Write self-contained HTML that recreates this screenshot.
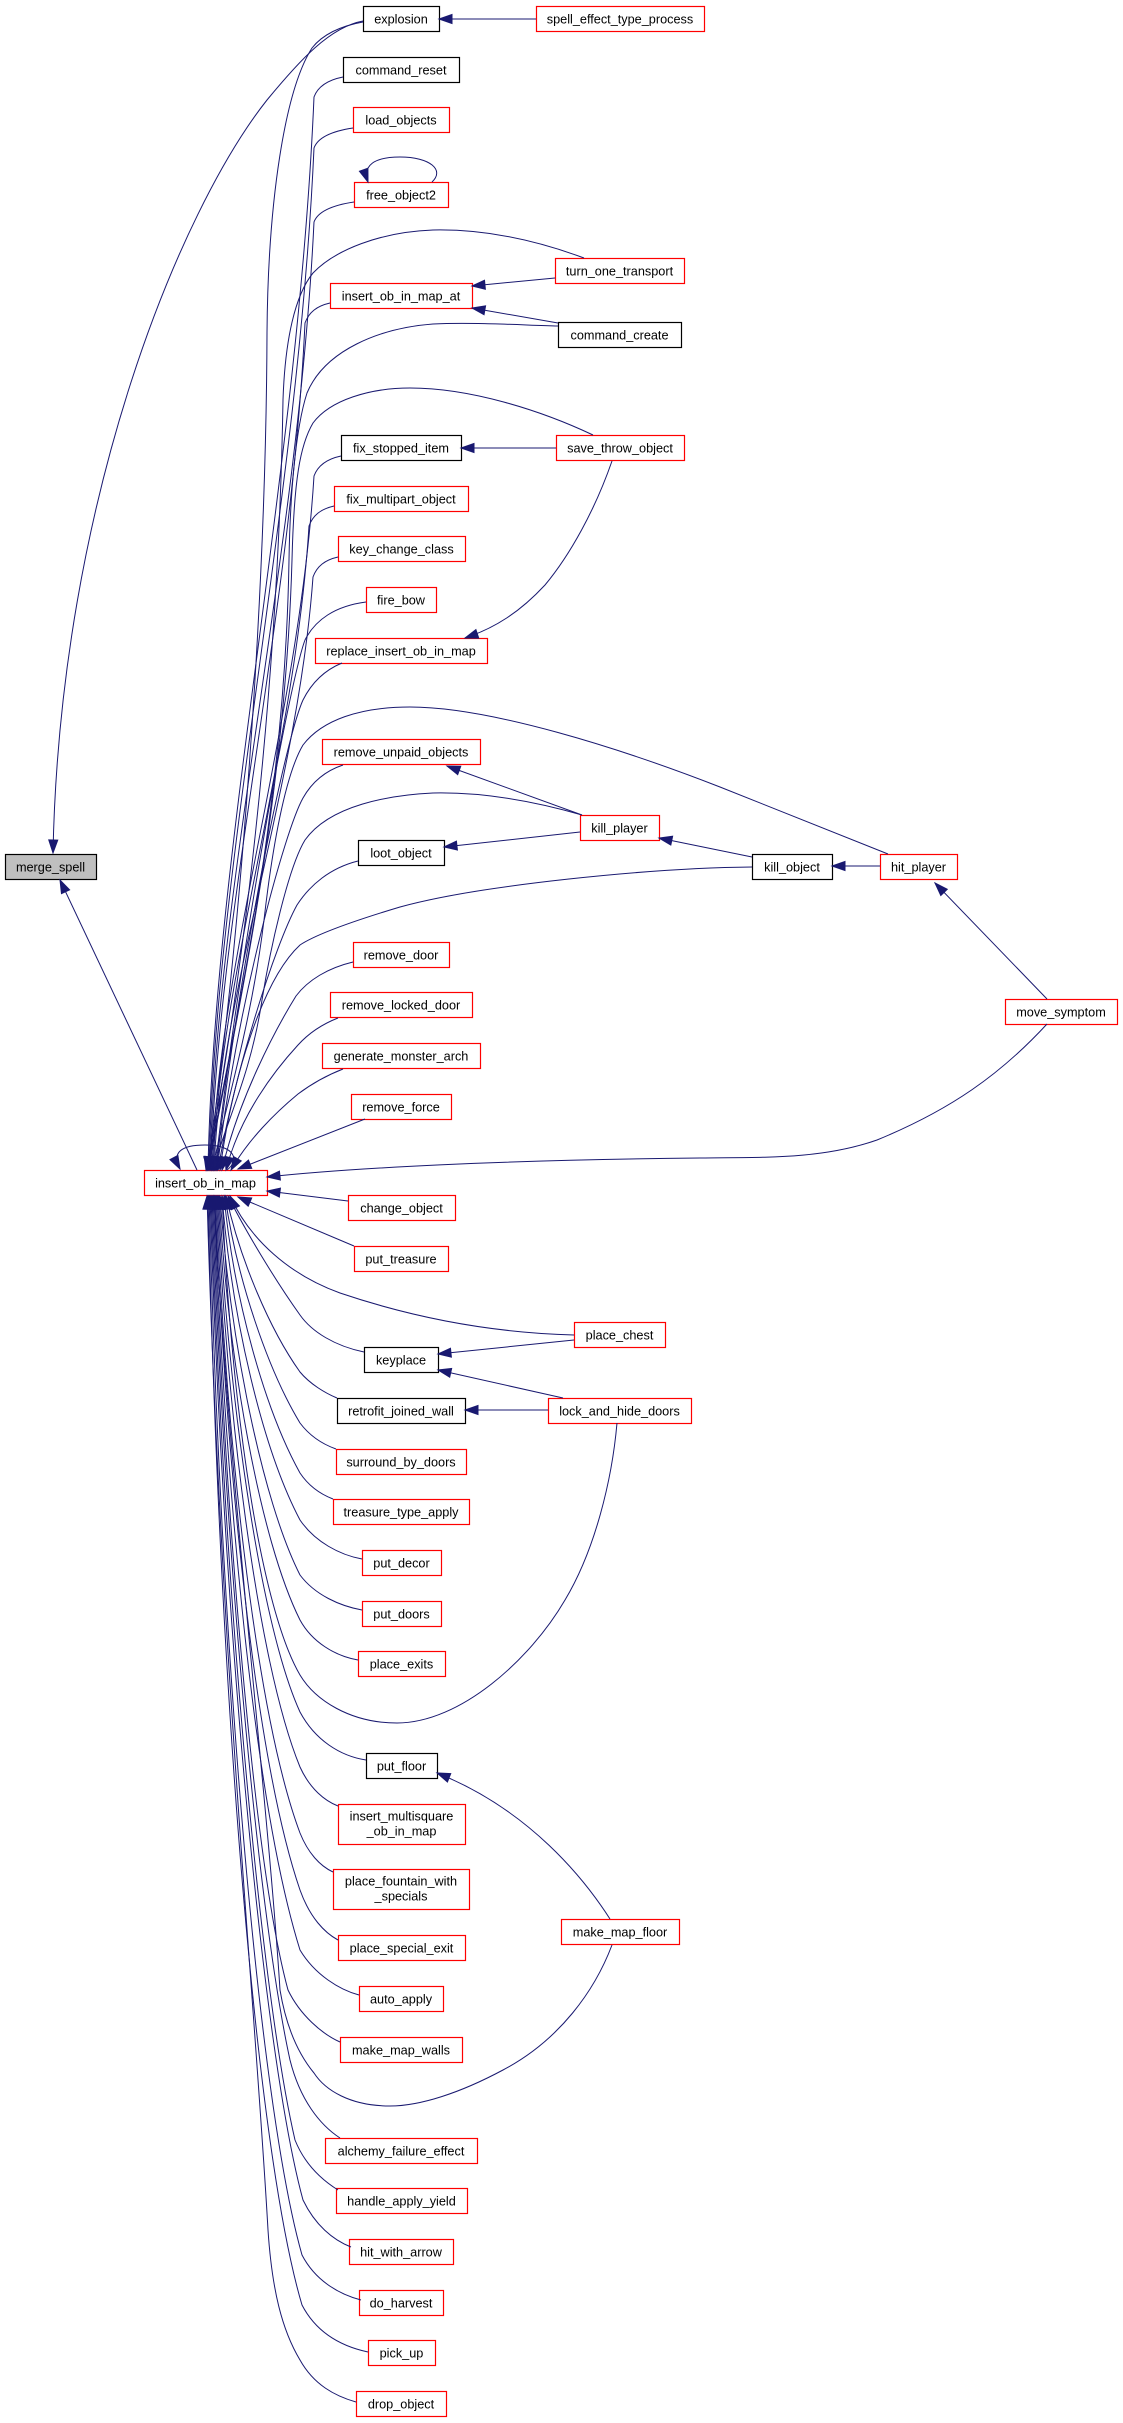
<!DOCTYPE html>
<html>
<head>
<meta charset="utf-8">
<style>
html,body{margin:0;padding:0;background:#fff;}
svg{display:block;}
text{font-family:"Liberation Sans",Arial,sans-serif;font-size:12.7px;fill:#000;}
</style>
</head>
<body>
<svg width="1123" height="2423" viewBox="0 0 1123 2423" xmlns="http://www.w3.org/2000/svg">
<defs>
<marker id="ah" markerUnits="userSpaceOnUse" markerWidth="14" markerHeight="11" refX="13" refY="5" orient="auto" overflow="visible">
<path d="M0,0.5 L13,5 L0,9.5 z" fill="#191970" stroke="#191970" stroke-width="1"/>
</marker>
</defs>
<rect width="1123" height="2423" fill="#fff"/>

<!-- nodes -->
<g stroke-width="1.2" fill="#fff">
<rect x="5.5" y="854.5" width="91" height="25" fill="#bfbfbf" stroke="#000"/>
<rect x="144.5" y="1170.5" width="123" height="25" stroke="#ff0000"/>
<rect x="363.5" y="6.5" width="76" height="25" stroke="#000"/>
<rect x="343.5" y="57.5" width="116" height="25" stroke="#000"/>
<rect x="353.5" y="107.5" width="96" height="25" stroke="#ff0000"/>
<rect x="354.5" y="182.5" width="94" height="25" stroke="#ff0000"/>
<rect x="330.5" y="283.5" width="142" height="25" stroke="#ff0000"/>
<rect x="341.5" y="435.5" width="120" height="25" stroke="#000"/>
<rect x="334.5" y="486.5" width="134" height="25" stroke="#ff0000"/>
<rect x="338.5" y="536.5" width="127" height="25" stroke="#ff0000"/>
<rect x="366.5" y="587.5" width="70" height="25" stroke="#ff0000"/>
<rect x="315.5" y="638.5" width="172" height="25" stroke="#ff0000"/>
<rect x="322.5" y="739.5" width="158" height="25" stroke="#ff0000"/>
<rect x="358.5" y="840.5" width="86" height="25" stroke="#000"/>
<rect x="353.5" y="942.5" width="96" height="25" stroke="#ff0000"/>
<rect x="330.5" y="992.5" width="142" height="25" stroke="#ff0000"/>
<rect x="322.5" y="1043.5" width="158" height="25" stroke="#ff0000"/>
<rect x="351.5" y="1094.5" width="100" height="25" stroke="#ff0000"/>
<rect x="348.5" y="1195.5" width="107" height="25" stroke="#ff0000"/>
<rect x="354.5" y="1246.5" width="94" height="25" stroke="#ff0000"/>
<rect x="364.5" y="1347.5" width="74" height="25" stroke="#000"/>
<rect x="337.5" y="1398.5" width="128" height="25" stroke="#000"/>
<rect x="336.5" y="1449.5" width="130" height="25" stroke="#ff0000"/>
<rect x="333.5" y="1499.5" width="136" height="25" stroke="#ff0000"/>
<rect x="362.5" y="1550.5" width="79" height="25" stroke="#ff0000"/>
<rect x="362.5" y="1601.5" width="79" height="25" stroke="#ff0000"/>
<rect x="358.5" y="1651.5" width="87" height="25" stroke="#ff0000"/>
<rect x="366.5" y="1753.5" width="71" height="25" stroke="#000"/>
<rect x="338.5" y="1804.5" width="127" height="40" stroke="#ff0000"/>
<rect x="333.5" y="1869.5" width="136" height="40" stroke="#ff0000"/>
<rect x="338.5" y="1935.5" width="127" height="25" stroke="#ff0000"/>
<rect x="359.5" y="1986.5" width="84" height="25" stroke="#ff0000"/>
<rect x="340.5" y="2037.5" width="122" height="25" stroke="#ff0000"/>
<rect x="325.5" y="2138.5" width="152" height="25" stroke="#ff0000"/>
<rect x="336.5" y="2188.5" width="131" height="25" stroke="#ff0000"/>
<rect x="349.5" y="2239.5" width="104" height="25" stroke="#ff0000"/>
<rect x="359.5" y="2290.5" width="84" height="25" stroke="#ff0000"/>
<rect x="368.5" y="2340.5" width="67" height="25" stroke="#ff0000"/>
<rect x="356.5" y="2391.5" width="90" height="25" stroke="#ff0000"/>
<rect x="536.5" y="6.5" width="168" height="25" stroke="#ff0000"/>
<rect x="555.5" y="258.5" width="129" height="25" stroke="#ff0000"/>
<rect x="558.5" y="322.5" width="123" height="25" stroke="#000"/>
<rect x="556.5" y="435.5" width="128" height="25" stroke="#ff0000"/>
<rect x="580.5" y="815.5" width="79" height="25" stroke="#ff0000"/>
<rect x="574.5" y="1322.5" width="91" height="25" stroke="#ff0000"/>
<rect x="548.5" y="1398.5" width="143" height="25" stroke="#ff0000"/>
<rect x="561.5" y="1919.5" width="118" height="25" stroke="#ff0000"/>
<rect x="752.5" y="854.5" width="80" height="25" stroke="#000"/>
<rect x="880.5" y="854.5" width="77" height="25" stroke="#ff0000"/>
<rect x="1005.5" y="999.5" width="112" height="25" stroke="#ff0000"/>
</g>

<g text-anchor="middle">
<text x="50.5" y="871.5">merge_spell</text>
<text x="205.5" y="1187.5">insert_ob_in_map</text>
<text x="401" y="23.5">explosion</text>
<text x="401" y="74.5">command_reset</text>
<text x="401" y="124.5">load_objects</text>
<text x="401" y="199.5">free_object2</text>
<text x="401" y="300.5">insert_ob_in_map_at</text>
<text x="401" y="452.5">fix_stopped_item</text>
<text x="401" y="503.5">fix_multipart_object</text>
<text x="401.5" y="553.5">key_change_class</text>
<text x="401" y="604.5">fire_bow</text>
<text x="401" y="655.5">replace_insert_ob_in_map</text>
<text x="401" y="756.5">remove_unpaid_objects</text>
<text x="401" y="857.5">loot_object</text>
<text x="401" y="959.5">remove_door</text>
<text x="401" y="1009.5">remove_locked_door</text>
<text x="401" y="1060.5">generate_monster_arch</text>
<text x="401" y="1111.5">remove_force</text>
<text x="401.5" y="1212.5">change_object</text>
<text x="401" y="1263.5">put_treasure</text>
<text x="401" y="1364.5">keyplace</text>
<text x="401" y="1415.5">retrofit_joined_wall</text>
<text x="401" y="1466.5">surround_by_doors</text>
<text x="401" y="1516.5">treasure_type_apply</text>
<text x="401.5" y="1567.5">put_decor</text>
<text x="401.5" y="1618.5">put_doors</text>
<text x="401.5" y="1668.5">place_exits</text>
<text x="401.5" y="1770.5">put_floor</text>
<text x="401.5" y="1820.5">insert_multisquare</text>
<text x="401.5" y="1835.5">_ob_in_map</text>
<text x="401" y="1885.5">place_fountain_with</text>
<text x="401" y="1900.5">_specials</text>
<text x="401.5" y="1952.5">place_special_exit</text>
<text x="401" y="2003.5">auto_apply</text>
<text x="401" y="2054.5">make_map_walls</text>
<text x="401" y="2155.5">alchemy_failure_effect</text>
<text x="401.5" y="2205.5">handle_apply_yield</text>
<text x="401" y="2256.5">hit_with_arrow</text>
<text x="401" y="2307.5">do_harvest</text>
<text x="401.5" y="2357.5">pick_up</text>
<text x="401" y="2408.5">drop_object</text>
<text x="620" y="23.5">spell_effect_type_process</text>
<text x="619.5" y="275.5">turn_one_transport</text>
<text x="619.5" y="339.5">command_create</text>
<text x="620" y="452.5">save_throw_object</text>
<text x="619.5" y="832.5">kill_player</text>
<text x="619.5" y="1339.5">place_chest</text>
<text x="619.5" y="1415.5">lock_and_hide_doors</text>
<text x="620" y="1936.5">make_map_floor</text>
<text x="792" y="871.5">kill_object</text>
<text x="918.5" y="871.5">hit_player</text>
<text x="1061" y="1016.5">move_symptom</text>
</g>

<!-- edges -->
<g fill="none" stroke="#191970" stroke-width="1" marker-end="url(#ah)">
<!-- merge_spell callers -->
<path d="M363,21 C330,27 300,60 267,100 C180,210 60,500 53,853"/>
<path d="M197,1170 L60,880"/>
<!-- simple cross edges -->
<path d="M536,19 L439,19"/>
<path d="M555,278 L472,286"/>
<path d="M558,323 L472,308"/>
<path d="M556,448 L461,448"/>
<path d="M612,461 C595,510 570,555 545,585 C520,612 495,628 465,638"/>
<path d="M582,815 L447,766"/>
<path d="M580,832 L444,847"/>
<path d="M752,857 L659,838"/>
<path d="M880,866 L832,866"/>
<path d="M1047,999 L935,883"/>
<path d="M574,1340 L438,1354"/>
<path d="M563,1398 L438,1370"/>
<path d="M548,1410 L465,1410"/>
<path d="M610,1919 C585,1880 530,1810 437,1773"/>
<!-- self loops -->
<path d="M432,182 C445,170 430,157 400,157 C375,157 362,165 368,182"/>
<path d="M227,1170 C240,1160 235,1145 205,1145 C182,1145 171,1152 180,1169"/>

<!-- into insert_ob_in_map from above -->
<path d="M363,22 C340,26 322,35 312,48 C285,90 268,200 267,333 C266,600 240,950 207,1170"/>
<path d="M343,77 C328,80 318,86 314,97 C298,473 214,848 208,1170"/>
<path d="M353,128 C333,131 318,137 314,148 C298,506 215,863 209,1170"/>
<path d="M354,202 C334,205 318,211 314,222 C298,554 216,886 210,1170"/>
<path d="M330,303 C317,306 309,312 305,323 C291,619 217,916 211,1170"/>
<path d="M584,258 C530,238 480,229 433,230 C380,232 335,250 313,273 C295,295 285,340 283,400 C278,700 240,1000 206,1170"/>
<path d="M558,326 C520,325 470,322 433,324 C380,328 325,350 307,393 C295,430 290,500 289,560 C285,800 240,1000 207,1170"/>
<path d="M341,456 C327,459 318,465 314,476 C299,719 218,962 212,1170"/>
<path d="M593,435 C540,410 470,388 410,388 C370,388 330,400 313,423 C300,445 294,480 292,560 C285,800 240,1000 208,1170"/>
<path d="M334,506 C321,509 313,515 309,526 C295,751 219,977 213,1170"/>
<path d="M338,557 C325,560 317,566 313,577 C298,785 220,992 214,1170"/>
<path d="M366,602 C335,606 315,620 305,640 C290,680 240,950 215,1170"/>
<path d="M342,663 C325,670 312,682 303,700 C285,740 240,960 216,1170"/>
<path d="M888,854 L720,787 C620,748 490,707 410,707 C360,707 322,720 303,745 C285,775 272,850 264,920 C252,1020 225,1110 212,1170"/>
<path d="M343,765 C325,771 312,782 303,798 C285,830 238,1000 217,1170"/>
<path d="M582,815 C530,800 480,792 433,793 C390,795 330,805 305,840 C288,868 270,950 262,1000 C250,1080 222,1130 214,1170"/>
<path d="M358,861 C330,868 310,885 297,905 C275,945 235,1070 218,1170"/>
<path d="M752,867 C650,868 480,885 400,907 C350,922 315,935 300,945 C262,980 232,1080 220,1170"/>
<path d="M353,962 C328,968 308,980 296,996 C275,1030 238,1100 222,1170"/>
<path d="M338,1018 C320,1025 308,1034 298,1045 C275,1070 240,1115 226,1170"/>
<path d="M343,1069 C325,1076 310,1085 298,1094 C275,1113 248,1140 231,1170"/>
<path d="M365,1119 L238,1169"/>
<path d="M1047,1024 C1000,1075 950,1110 877,1140 C820,1160 760,1157 700,1158 C500,1160 350,1168 267,1177"/>
<path d="M348,1201 L267,1191"/>
<path d="M354,1246 L238,1197"/>

<!-- into insert_ob_in_map from below -->
<path d="M574,1335 C500,1333 420,1320 340,1293 C290,1275 250,1240 230,1196"/>
<path d="M364,1352 C335,1346 312,1332 300,1315 C275,1280 245,1230 228,1196"/>
<path d="M337,1398 C325,1393 310,1384 300,1372 C270,1330 240,1260 226,1196"/>
<path d="M617,1423 C612,1480 595,1550 565,1600 C530,1660 460,1723 397,1723 C350,1723 315,1700 300,1675 C262,1610 232,1420 222,1196"/>
<path d="M336,1449 C322,1444 309,1435 300,1423 C268,1370 237,1280 225,1196"/>
<path d="M333,1499 C320,1494 308,1485 300,1473 C265,1410 234,1300 224,1196"/>
<path d="M362,1559 C340,1555 315,1542 300,1520 C263,1450 232,1320 222,1196"/>
<path d="M362,1610 C340,1606 315,1595 300,1575 C262,1500 230,1340 220,1196"/>
<path d="M358,1660 C335,1656 312,1642 300,1620 C260,1540 228,1360 219,1196"/>
<path d="M366,1760 C340,1756 315,1740 300,1712 C258,1620 227,1380 218,1196"/>
<path d="M338,1806 C325,1801 310,1789 300,1767 C256,1660 226,1400 217,1196"/>
<path d="M333,1872 C320,1866 308,1853 300,1833 C254,1710 225,1420 216,1196"/>
<path d="M338,1940 C325,1933 310,1918 300,1890 C252,1750 224,1430 215,1196"/>
<path d="M612,1945 C595,1990 560,2040 503,2070 C460,2093 420,2106 390,2106 C350,2106 325,2090 314,2073 C295,2050 285,2020 280,1990 C268,1800 226,1450 214,1196"/>
<path d="M359,1995 C340,1990 315,1975 300,1950 C250,1790 223,1440 214,1196"/>
<path d="M340,2042 C322,2034 300,2015 288,1990 C250,1850 222,1450 213,1196"/>
<path d="M340,2138 C320,2125 300,2100 290,2060 C255,1900 222,1500 212,1196"/>
<path d="M338,2190 C322,2180 305,2165 295,2140 C258,1980 222,1550 211,1196"/>
<path d="M351,2247 C333,2240 315,2225 303,2200 C262,2050 222,1600 210,1196"/>
<path d="M361,2300 C338,2294 315,2280 302,2255 C258,2100 221,1650 209,1196"/>
<path d="M368,2352 C340,2346 316,2332 302,2305 C256,2150 220,1700 208,1196"/>
<path d="M356,2402 C335,2396 314,2385 300,2360 C282,2330 272,2290 268,2230 C255,2000 220,1650 207,1196"/>
</g>
</svg>
</body>
</html>
